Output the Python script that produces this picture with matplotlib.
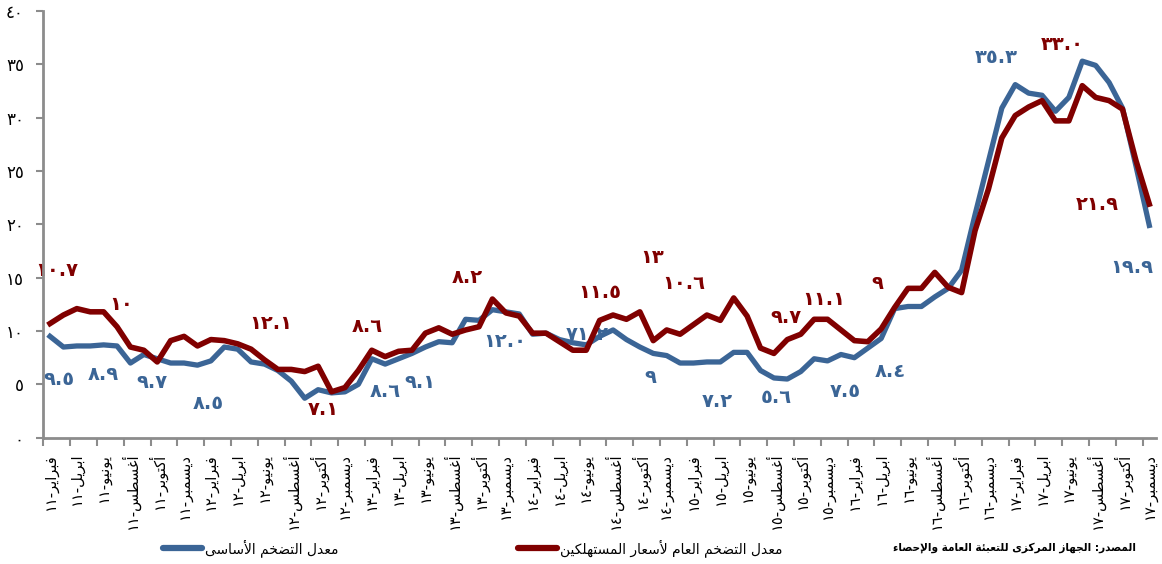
import re
import matplotlib
matplotlib.use("Agg")
import matplotlib.pyplot as plt
from matplotlib.lines import Line2D

plt.rcParams['font.family'] = ['DejaVu Sans']

# monthly inflation, Feb 2011 .. Dec 2017 (percent)
headline = [10.7, 11.5, 12.1, 11.8, 11.8, 10.4, 8.5, 8.2, 7.1, 9.1, 9.5,
            8.6, 9.2, 9.1, 8.8, 8.3, 7.3, 6.4, 6.4, 6.2, 6.7, 4.3, 4.7,
            6.3, 8.2, 7.6, 8.1, 8.2, 9.8, 10.3, 9.7, 10.1, 10.4, 13.0, 11.7,
            11.4, 9.8, 9.8, 9.0, 8.2, 8.2, 11.0, 11.5, 11.1, 11.8, 9.1, 10.1,
            9.7, 10.6, 11.5, 11.0, 13.1, 11.4, 8.4, 7.9, 9.2, 9.7, 11.1, 11.1,
            10.1, 9.1, 9.0, 10.2, 12.2, 14.0, 14.0, 15.5, 14.1, 13.6, 19.4, 23.3,
            28.1, 30.2, 31.0, 31.6, 29.7, 29.7, 33.0, 31.9, 31.6, 30.8, 26.0, 21.9]
core = [9.5, 8.5, 8.6, 8.6, 8.7, 8.6, 7.0, 7.8, 7.4, 7.0, 7.0,
        6.8, 7.2, 8.5, 8.3, 7.1, 6.9, 6.3, 5.3, 3.7, 4.5, 4.2, 4.3,
        5.0, 7.4, 6.9, 7.4, 7.9, 8.5, 9.0, 8.9, 11.1, 11.0, 12.0, 11.8,
        11.6, 9.7, 9.8, 9.2, 8.9, 8.7, 9.5, 10.1, 9.2, 8.5, 7.9, 7.7,
        7.0, 7.0, 7.1, 7.1, 8.0, 8.0, 6.3, 5.6, 5.5, 6.2, 7.4, 7.2,
        7.8, 7.5, 8.4, 9.3, 12.1, 12.3, 12.3, 13.2, 14.0, 15.7, 20.9, 25.9,
        30.9, 33.1, 32.3, 32.1, 30.6, 31.9, 35.3, 34.9, 33.3, 30.9, 25.5, 19.9]

months = ["فبراير", "ابريل", "يونيو", "أغسطس", "أكتوبر", "ديسمبر"]
years = ["١١", "١٢", "١٣", "١٤", "١٥", "١٦", "١٧"]
ytick_labels = ["٠", "٥", "١٠", "١٥", "٢٠", "٢٥", "٣٠", "٣٥", "٤٠"]

name_core = "معدل التضخم الأساسى"
name_headline = "معدل التضخم العام لأسعار المستهلكين"
source = "المصدر: الجهاز المركزى للتعبئة العامة والإحصاء"

headline_notes = ["١٠.٧", "١٠", "١٢.١", "٧.١", "٨.٦", "٨.٢", "١٣", "١١.٥",
                  "١٠.٦", "٩.٧", "١١.١", "٩", "٣٣.٠", "٢١.٩"]
core_notes = ["٩.٥", "٨.٩", "٩.٧", "٨.٥", "٨.٦", "٩.١", "١٢.٠", "٧١.٢",
              "٩", "٧.٢", "٥.٦", "٧.٥", "٨.٤", "٣٥.٣", "١٩.٩"]

# where the notes sit (month index, value axis)
headline_note_pos = [(0.5, 15.7), (5.3, 12.5), (16.5, 10.75), (20.4, 2.6),
                     (23.7, 10.4), (31.1, 15.05), (44.9, 16.9), (41.0, 13.65),
                     (47.3, 14.5), (54.9, 11.3), (57.7, 13.0), (61.7, 14.5),
                     (75.5, 36.9), (78.1, 21.9)]
core_note_pos = [(0.7, 5.5), (4.0, 5.9), (7.6, 5.2), (11.8, 3.2), (25.0, 4.3),
                 (27.6, 5.2), (33.9, 9.0), (40.1, 9.7), (44.8, 5.65),
                 (49.8, 3.35), (54.2, 3.8), (59.3, 4.3), (62.7, 6.2),
                 (70.6, 35.6), (80.7, 16.0)]

BLUE = "#3b6596"
RED = "#800000"
GREY = "#8c8c8c"

# --- minimal arabic shaping (presentation forms) + right-to-left ordering ---
RIGHT = {'آ': 0xFE81, 'أ': 0xFE83, 'ؤ': 0xFE85, 'إ': 0xFE87, 'ا': 0xFE8D,
         'ة': 0xFE93, 'د': 0xFEA9, 'ذ': 0xFEAB, 'ر': 0xFEAD, 'ز': 0xFEAF,
         'و': 0xFEED, 'ى': 0xFEEF}
DUAL = {'ئ': 0xFE89, 'ب': 0xFE8F, 'ت': 0xFE95, 'ث': 0xFE99, 'ج': 0xFE9D,
        'ح': 0xFEA1, 'خ': 0xFEA5, 'س': 0xFEB1, 'ش': 0xFEB5, 'ص': 0xFEB9,
        'ض': 0xFEBD, 'ط': 0xFEC1, 'ظ': 0xFEC5, 'ع': 0xFEC9, 'غ': 0xFECD,
        'ف': 0xFED1, 'ق': 0xFED5, 'ك': 0xFED9, 'ل': 0xFEDD, 'م': 0xFEE1,
        'ن': 0xFEE5, 'ه': 0xFEE9, 'ي': 0xFEF1}
LAM_ALEF = {'آ': 0xFEF5, 'أ': 0xFEF7, 'إ': 0xFEF9, 'ا': 0xFEFB}


def shape(word):
    toks = []
    i = 0
    while i < len(word):
        if word[i] == 'ل' and i + 1 < len(word) and word[i + 1] in LAM_ALEF:
            toks.append(('LA', word[i + 1]))
            i += 2
        else:
            toks.append(word[i])
            i += 1

    def to_next(t):
        return t in DUAL

    def to_prev(t):
        return isinstance(t, tuple) or t in DUAL or t in RIGHT

    out = []
    for k, t in enumerate(toks):
        a = k > 0 and to_next(toks[k - 1]) and to_prev(t)
        b = k + 1 < len(toks) and to_next(t) and to_prev(toks[k + 1])
        if isinstance(t, tuple):
            out.append(chr(LAM_ALEF[t[1]] + a))
        elif t in DUAL:
            out.append(chr(DUAL[t] + (3 if a and b else 2 if b else 1 if a else 0)))
        elif t in RIGHT:
            out.append(chr(RIGHT[t] + a))
        else:
            out.append(t)
    return ''.join(out)


def ar(text):
    s = shape(text)
    runs = re.findall(r'[0-9٠-٩.]+|[^0-9٠-٩.]+', s)
    return ''.join(r if r[0] in '0123456789٠١٢٣٤٥٦٧٨٩.' else r[::-1]
                   for r in reversed(runs))


n = len(headline)
x = list(range(n))

fig = plt.figure(figsize=(11.62, 5.64), dpi=100)
ax = fig.add_axes([43.3 / 1162, 126.3 / 564, 1112.7 / 1162, 426.7 / 564])

for txt, (px, py) in zip(core_notes, core_note_pos):
    ax.text(px, py, txt, color=BLUE, fontsize=14, fontweight='bold',
            ha='center', va='center', zorder=1)
for txt, (px, py) in zip(headline_notes, headline_note_pos):
    ax.text(px, py, txt, color=RED, fontsize=14, fontweight='bold',
            ha='center', va='center', zorder=1)

ax.plot(x, core, color=BLUE, lw=3.8, solid_joinstyle='round', zorder=3)
ax.plot(x, headline, color=RED, lw=4.0, solid_joinstyle='round', zorder=4)

ax.set_xlim(-0.5, n - 0.5)
ax.set_ylim(0, 40)

ax.set_yticks(range(0, 41, 5))
ax.set_yticklabels(ytick_labels, fontsize=12)
ax.tick_params(axis='y', length=5, width=1.5, color=GREY, pad=9)

ax.set_xticks([k - 0.5 for k in range(0, n, 2)])
ax.set_xticklabels([])
ax.tick_params(axis='x', which='major', length=6, width=1.5, color=GREY)
labels = [ar(m + "-" + y) for y in years for m in months]
ax.set_xticks(range(0, n, 2), minor=True)
ax.set_xticklabels(labels, minor=True, rotation=90, fontsize=10.5)
ax.tick_params(axis='x', which='minor', length=0, pad=11)

for side in ['top', 'right']:
    ax.spines[side].set_visible(False)
for side in ['left', 'bottom']:
    ax.spines[side].set_color(GREY)
    ax.spines[side].set_linewidth(2)

leg_kw = dict(loc='center left', frameon=False, fontsize=10, borderpad=0,
              borderaxespad=0, handlelength=2.8, handletextpad=0.2)
fig.legend([Line2D([], [], color=BLUE, lw=4.5, solid_capstyle='round')],
           [ar(name_core)], bbox_to_anchor=(163 / 1162, 16 / 564), **leg_kw)
fig.legend([Line2D([], [], color=RED, lw=4.5, solid_capstyle='round')],
           [ar(name_headline)], bbox_to_anchor=(518 / 1162, 16 / 564), **leg_kw)

fig.text(1136 / 1162, 16 / 564, ar(source), ha='right', va='center',
         fontsize=7.6, fontweight='bold')

fig.savefig("out.png", dpi=100)
